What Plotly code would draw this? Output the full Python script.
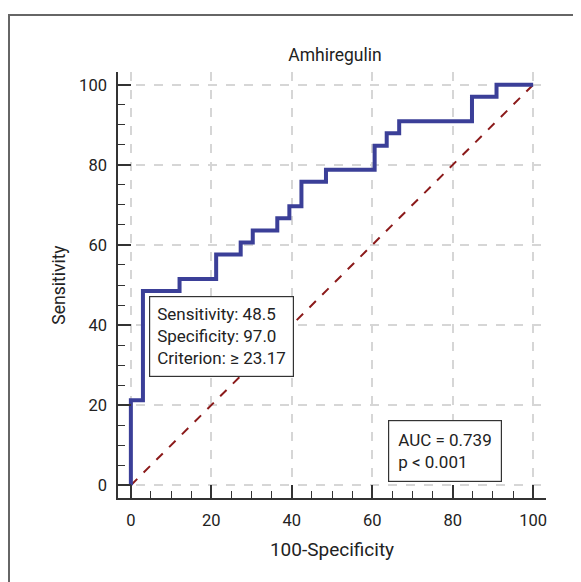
import plotly.graph_objects as go

# ROC curve corner points (100-Specificity, Sensitivity)
fpr = [0, 0, 3.0, 12.1, 21.2, 27.3, 30.3, 36.4, 39.4, 42.4, 48.5, 60.6, 63.6, 66.7, 84.8, 90.9, 100]
tpr = [0, 21.2, 48.5, 51.5, 57.6, 60.6, 63.6, 66.7, 69.7, 75.8, 78.8, 84.8, 87.9, 90.9, 97.0, 100, 100]
diag_x = [0, 100]
diag_y = [0, 100]
tick_vals = [0, 20, 40, 60, 80, 100]
tick_text = ["0", "20", "40", "60", "80", "100"]

title_text = "Amhiregulin"
x_title = "100-Specificity"
y_title = "Sensitivity"
crit_text = "Sensitivity: 48.5<br>Specificity: 97.0<br>Criterion: \u2265 23.17"
auc_text = "AUC = 0.739<br>p < 0.001"

FONT = "Roboto, Liberation Sans, Arial, sans-serif"

fig = go.Figure()
fig.add_trace(go.Scatter(x=diag_x, y=diag_y, mode="lines",
                         line=dict(color="#8B1A1A", width=2, dash="dash"),
                         hoverinfo="skip", showlegend=False))
fig.add_trace(go.Scatter(x=fpr, y=tpr, mode="lines", line_shape="hv",
                         line=dict(color="#3B3F98", width=4),
                         showlegend=False))

axis_common = dict(
    range=[-3.2, 103.2], tickvals=tick_vals, ticktext=tick_text,
    ticks="inside", ticklen=13, tickwidth=1.5, tickcolor="#333",
    showline=True, linecolor="#333", linewidth=1.5,
    showgrid=True, gridcolor="#D6D6D6", griddash="dash", gridwidth=1.5,
    zeroline=False, mirror=False,
    minor=dict(dtick=5, ticks="inside", ticklen=7, tickwidth=1.2, tickcolor="#333", showgrid=False),
    tickfont=dict(family=FONT, size=16.5, color="#222"),
    fixedrange=True,
)

# figure is placed 8px from page edges (body margin), so coordinates below are page-8
fig.update_layout(
    width=573, height=574,
    margin=dict(l=110, r=35, t=64, b=84),
    paper_bgcolor="white", plot_bgcolor="white",
    title=dict(text=title_text, x=(327 / 573), xanchor="center",
               y=1 - 47 / 574, yanchor="middle", yref="container",
               font=dict(family=FONT, size=17.5, color="#222")),
    xaxis=dict(axis_common, title=dict(text=x_title, standoff=14,
                                       font=dict(family=FONT, size=19, color="#222")),
               ticklabelstandoff=6),
    yaxis=dict(axis_common, title=dict(text=y_title, standoff=9,
                                       font=dict(family=FONT, size=17.5, color="#222")),
               ticklabelstandoff=6),
    font=dict(family=FONT),
)

fig.add_annotation(x=4.5, y=47.2, xref="x", yref="y", xanchor="left", yanchor="top",
                   text=crit_text, showarrow=False, align="left",
                   font=dict(family=FONT, size=17, color="#222"),
                   bgcolor="white", bordercolor="#333", borderwidth=1.2, borderpad=7)
fig.add_annotation(x=64.0, y=16.3, xref="x", yref="y", xanchor="left", yanchor="top",
                   text=auc_text, showarrow=False, align="left",
                   font=dict(family=FONT, size=17, color="#222"),
                   bgcolor="white", bordercolor="#333", borderwidth=1.2, borderpad=9)

# outer frame (left and top edges visible)
fig.add_shape(type="rect", xref="paper", yref="paper",
              x0=(1 - 110) / 428, x1=1.3, y0=-0.4, y1=(490 - 7) / 426,
              line=dict(color="#666", width=2), fillcolor="rgba(0,0,0,0)", layer="below")

fig.write_html("out.html")
